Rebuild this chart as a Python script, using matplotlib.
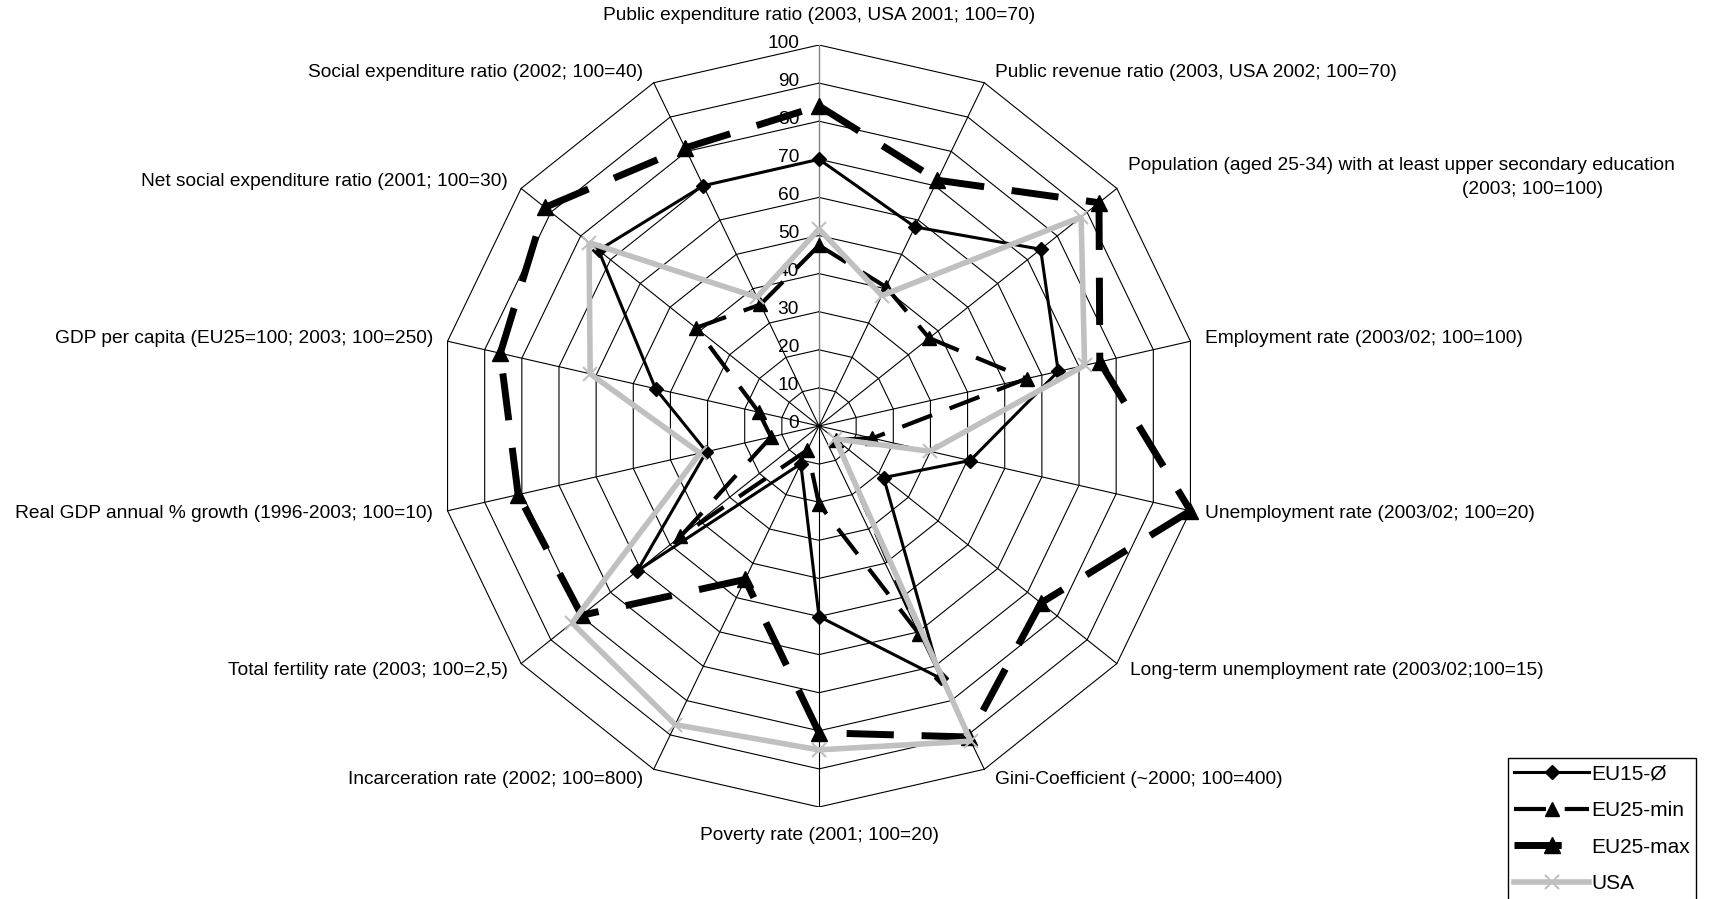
import numpy as np
import matplotlib
matplotlib.use('Agg')
import matplotlib.pyplot as plt
from matplotlib.lines import Line2D

plt.rcParams['font.family'] = ['Liberation Sans', 'DejaVu Sans']
plt.rcParams['lines.scale_dashes'] = False

categories = [
    "Public expenditure ratio (2003, USA 2001; 100=70)",
    "Public revenue ratio (2003, USA 2002; 100=70)",
    "Population (aged 25-34) with at least upper secondary education\n(2003; 100=100)",
    "Employment rate (2003/02; 100=100)",
    "Unemployment rate (2003/02; 100=20)",
    "Long-term unemployment rate (2003/02;100=15)",
    "Gini-Coefficient (~2000; 100=400)",
    "Poverty rate (2001; 100=20)",
    "Incarceration rate (2002; 100=800)",
    "Total fertility rate (2003; 100=2,5)",
    "Real GDP annual % growth (1996-2003; 100=10)",
    "GDP per capita (EU25=100; 2003; 100=250)",
    "Net social expenditure ratio (2001; 100=30)",
    "Social expenditure ratio (2002; 100=40)",
]

eu15 = [70, 58, 74.4, 64.4, 40.7, 21.7, 73.5, 50, 11, 61, 30.3, 44, 74, 70]
eu25_min = [47.4, 40.5, 37, 55.9, 14.4, 5.8, 60.7, 20.5, 7, 46.5, 12.9, 16.2, 41.3, 35.4]
eu25_max = [84, 71.6, 94, 75.6, 100, 74.5, 90.6, 80.5, 44.7, 79.7, 81, 85.8, 92, 81]
usa = [51.7, 38, 88, 71.5, 29.8, 5.4, 91.8, 85, 87, 82.9, 32, 61.6, 77.2, 37.5]
series_names = ["EU15-Ø", "EU25-min", "EU25-max", "USA"]
ticks = [0, 10, 20, 30, 40, 50, 60, 70, 80, 90, 100]

n = len(categories)
theta = np.arange(n) * 2 * np.pi / n
FS = 13.8


def to_xy(values):
    # clockwise from the top, closed polygon
    v = np.append(np.asarray(values, float), values[0])
    t = np.append(theta, theta[0])
    return v * np.sin(t), v * np.cos(t)


W, H = 1717, 899
fig = plt.figure(figsize=(W / 100, H / 100), dpi=100)
cx, cy, R = 819, 426, 381  # centre and radius in pixels
ax = fig.add_axes([(cx - R) / W, (H - cy - R) / H, 2 * R / W, 2 * R / H])
ax.set_xlim(-100, 100)
ax.set_ylim(-100, 100)
ax.axis('off')

# grid rings and spokes
for t in ticks[1:]:
    ax.plot(*to_xy([t] * n), color='black', lw=0.8, zorder=1)
for i in range(n):
    ax.plot([0, 100 * np.sin(theta[i])], [0, 100 * np.cos(theta[i])],
            color='#808080' if i == 0 else 'black', lw=1.0 if i == 0 else 0.8, zorder=1)

# value axis labels
for t in ticks:
    ax.annotate(str(t), (0, t), xytext=(-20, 2), textcoords='offset pixels',
                ha='right', va='center', fontsize=FS)

# category labels
for i, lab in enumerate(categories):
    s, c = np.sin(theta[i]), np.cos(theta[i])
    xy = (100 * s, 100 * c)
    if abs(s) < 0.1:
        ax.annotate(lab, xy, xytext=(0, 29 * np.sign(c)), textcoords='offset pixels',
                    ha='center', va='center', fontsize=FS)
    elif '\n' in lab:
        first, second = lab.split('\n')
        ax.annotate(first, xy, xytext=(11, 23), textcoords='offset pixels',
                    ha='left', va='center', fontsize=FS)
        ax.annotate(second, xy, xytext=(416, -1), textcoords='offset pixels',
                    ha='center', va='center', fontsize=FS)
    else:
        dx = (8 + 6.5 * abs(s)) * np.sign(s)
        ax.annotate(lab, xy, xytext=(dx, 11 * c), textcoords='offset pixels',
                    ha='left' if s > 0 else 'right', va='center', fontsize=FS)

styles = [
    dict(color='black', lw=2.2, marker='D', ms=7, mew=1),
    dict(color='black', lw=3.0, dashes=(23, 13.5), marker='^', ms=10, mew=1),
    dict(color='black', lw=5.0, dashes=(34, 20), marker='^', ms=11, mew=1),
    dict(color='#c0c0c0', lw=4.0, marker='x', ms=10, mew=1.5),
]

handles = []
for k, vals in enumerate([eu15, eu25_min, eu25_max, usa]):
    st = dict(styles[k])
    x, y = to_xy(vals)
    line_st = {key: v for key, v in st.items() if key not in ('marker', 'ms', 'mew')}
    # each segment restarts its dash pattern at the vertex, as in the original
    for i in range(n):
        ax.plot(x[i:i + 2], y[i:i + 2], zorder=3 + k, solid_capstyle='butt',
                dash_capstyle='butt', **line_st)
    ax.plot(x[:-1], y[:-1], linestyle='none', marker=st['marker'], ms=st['ms'],
            mew=st['mew'], color=st['color'], zorder=3 + k)
    handles.append(Line2D([], [], **st))

fig.legend(handles, series_names, loc='upper left',
           bbox_to_anchor=(1508 / W, 1 - 758 / H), fontsize=15, frameon=True,
           fancybox=False, edgecolor='black', framealpha=1, borderaxespad=0,
           handlelength=3.6, labelspacing=0.85, borderpad=0.3, handletextpad=0.1)

fig.savefig('out.png', dpi=100)
